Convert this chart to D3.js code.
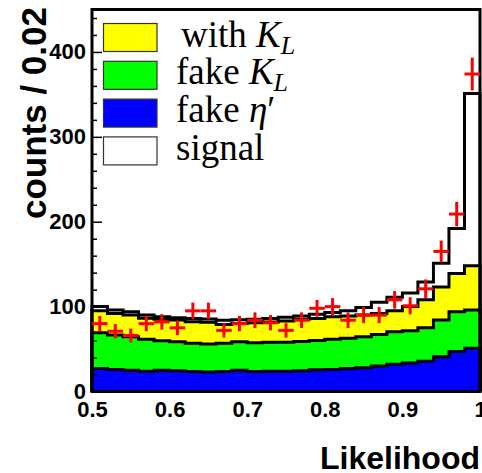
<!DOCTYPE html>
<html>
<head>
<meta charset="utf-8">
<script src="https://cdn.jsdelivr.net/npm/d3@7"></script>
<style>
  body { margin: 0; background: white; }
  .tick text { font-family: "Liberation Sans", Arial, sans-serif; font-weight: bold; font-size: 22px; }
</style>
</head>
<body>
<div id="chart"></div>
<script>
// bin centres of the likelihood histogram (bin width 0.02)
var binCenters = [0.51, 0.53, 0.55, 0.57, 0.59, 0.61, 0.63, 0.65, 0.67, 0.69, 0.71, 0.73, 0.75,
                  0.77, 0.79, 0.81, 0.83, 0.85, 0.87, 0.89, 0.91, 0.93, 0.95, 0.97, 0.99];

// stacked MC components (counts per bin)
var fakeEta = [27, 26, 25, 24, 25, 24.5, 23.5, 23, 23.5, 25, 23.5, 24, 24, 24.5, 25.5, 26, 27, 28, 30, 32, 33.5, 35.5, 41, 47, 51];
var fakeKL  = [42.3, 40.5, 39.6, 37.5, 34.8, 34.2, 33.2, 33, 33.2, 33.7, 34, 34, 34, 34.5, 34.5, 35.5, 35.6, 36.6, 37, 38.4, 38, 39.5, 43.2, 47, 45];
var withKL  = [25.9, 25.5, 25.5, 24.7, 25.2, 25.5, 25.5, 25.5, 22.3, 21.3, 23.5, 24, 25, 26, 26, 26.5, 26.4, 25.4, 25, 24.6, 28.5, 33, 38.8, 45, 52];
var signal  = [4.8, 4, 3.9, 3.8, 3, 2.8, 3.8, 4, 5, 4.5, 4, 4, 4.5, 4, 5, 5, 6, 9, 13, 16, 16, 21, 28, 53, 203];

// data points
var dataCounts = [80, 71, 66, 80, 82, 75, 95, 95, 72, 80, 84, 81, 72, 84, 98, 100, 84, 90, 90, 108, 101, 121, 165, 209, 374];

var xTicks = [0.5, 0.6, 0.7, 0.8, 0.9, 1];
var yTicks = [0, 100, 200, 300, 400];
var yMinorTicks = [20, 40, 60, 80, 120, 140, 160, 180, 220, 240, 260, 280, 320, 340, 360, 380, 420, 440];

var svgWidth = 482;
var svgHeight = 473;
var binWidth = 0.02;

var svg = d3.select("#chart")
  .append("svg")
  .attr("width", svgWidth)
  .attr("height", svgHeight)
  .style("background-color", "white");

var x = d3.scaleLinear().domain([0.5, 1]).range([92, 480]);
var y = d3.scaleLinear().domain([0, 450]).range([391.5, 9.5]);

var rows = binCenters.map(function(c, i) {
  return { center: c, fakeEta: fakeEta[i], fakeKL: fakeKL[i], withKL: withKL[i], signal: signal[i] };
});
var keys = ["fakeEta", "fakeKL", "withKL", "signal"];
var colors = { fakeEta: "#0000ff", fakeKL: "#00ff00", withKL: "#ffff00", signal: "#ffffff" };
var series = d3.stack().keys(keys)(rows);

var area = d3.area()
  .x(function(p) { return x(p[0]); })
  .y0(y(0))
  .y1(function(p) { return y(p[1]); })
  .curve(d3.curveStepAfter);

var line = d3.line()
  .x(function(p) { return x(p[0]); })
  .y(function(p) { return y(p[1]); })
  .curve(d3.curveStepAfter);

// draw cumulative histograms, biggest first (like THStack)
series.slice().reverse().forEach(function(s) {
  var pts = s.map(function(d) { return [d.data.center - binWidth / 2, d[1]]; });
  var last = s[s.length - 1];
  pts.push([last.data.center + binWidth / 2, last[1]]);

  svg.append("path")
    .attr("d", area(pts))
    .attr("fill", colors[s.key]);

  var outline = [[pts[0][0], 0]].concat(pts).concat([[pts[pts.length - 1][0], 0]]);
  svg.append("path")
    .attr("d", line(outline))
    .attr("fill", "none")
    .attr("stroke", "black")
    .attr("stroke-width", 3);
});

// frame
svg.append("rect")
  .attr("x", 92).attr("y", 9.5)
  .attr("width", 388).attr("height", 382)
  .attr("fill", "none")
  .attr("stroke", "black")
  .attr("stroke-width", 3);

// y axis: major and minor ticks pointing inside
var yAxis = svg.append("g")
  .attr("transform", "translate(92,0)")
  .call(d3.axisLeft(y).tickValues(yTicks).tickSizeInner(-10).tickSizeOuter(0).tickPadding(6));
yAxis.select(".domain").remove();
yAxis.selectAll("line").attr("stroke-width", 1.5);

var yMinor = svg.append("g")
  .attr("transform", "translate(92,0)")
  .call(d3.axisLeft(y).tickValues(yMinorTicks).tickSizeInner(-5).tickSizeOuter(0).tickFormat(""));
yMinor.select(".domain").remove();
yMinor.selectAll("line").attr("stroke-width", 1.5);

// x axis labels
var xAxis = svg.append("g")
  .attr("transform", "translate(0,391.5)")
  .call(d3.axisBottom(x).tickValues(xTicks).tickSize(0).tickPadding(10)
    .tickFormat(function(d) { return d === 1 ? "1" : d.toFixed(1); }));
xAxis.select(".domain").remove();

// data crosses with sqrt(N) errors
var pts = svg.append("g").attr("stroke", "red").attr("stroke-width", 3);
binCenters.forEach(function(c, i) {
  var n = dataCounts[i];
  var e = Math.sqrt(n);
  pts.append("line")
    .attr("x1", x(c - binWidth / 2)).attr("x2", x(c + binWidth / 2))
    .attr("y1", y(n)).attr("y2", y(n));
  pts.append("line")
    .attr("x1", x(c)).attr("x2", x(c))
    .attr("y1", y(n - e)).attr("y2", y(n + e));
});

// axis titles
svg.append("text")
  .attr("x", 480).attr("y", 469)
  .attr("text-anchor", "end")
  .style("font-family", "Liberation Sans, Arial, sans-serif")
  .style("font-weight", "bold")
  .style("font-size", "32px")
  .text("Likelihood");

svg.append("text")
  .attr("transform", "translate(46,7) rotate(-90)")
  .attr("text-anchor", "end")
  .style("font-family", "Liberation Sans, Arial, sans-serif")
  .style("font-weight", "bold")
  .style("font-size", "35px")
  .text("counts / 0.02");

// legend
var legendKeys = ["withKL", "fakeKL", "fakeEta", "signal"];
var legend = svg.append("g")
  .style("font-family", "Liberation Serif, Times New Roman, serif")
  .style("font-size", "37px");

legendKeys.forEach(function(k, i) {
  var top = 23.5 + i * 37.8;
  legend.append("rect")
    .attr("x", 103.5).attr("y", top)
    .attr("width", 53.5).attr("height", 28)
    .attr("fill", colors[k])
    .attr("stroke", "#333")
    .attr("stroke-width", 1.2);

  var t = legend.append("text")
    .attr("x", k === "withKL" ? 181 : 176)
    .attr("y", top + 23);

  if (k === "withKL" || k === "fakeKL") {
    t.append("tspan").text(k === "withKL" ? "with " : "fake ");
    t.append("tspan").style("font-style", "italic").text("K");
    t.append("tspan").style("font-style", "italic").style("font-size", "26px")
      .attr("dy", 7).text("L");
  } else if (k === "fakeEta") {
    t.append("tspan").text("fake ");
    t.append("tspan").style("font-style", "italic").text("η");
    t.append("tspan").text("′");
  } else {
    t.text("signal");
  }
});
</script>
</body>
</html>
